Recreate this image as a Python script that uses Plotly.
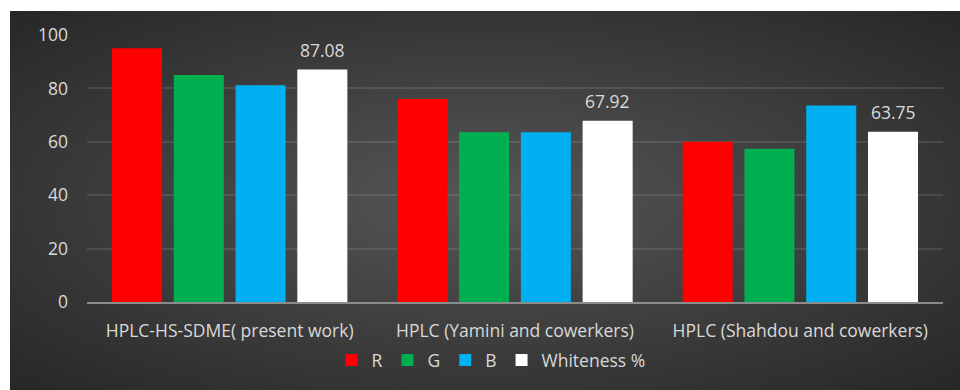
import base64
import plotly.graph_objects as go

categories = ["HPLC-HS-SDME( present work)", "HPLC (Yamini and cowerkers)", "HPLC (Shahdou and cowerkers)"]
series_names = ["R", "G", "B", "Whiteness %"]
r_vals = [95.0, 76.0, 60.0]
g_vals = [85.0, 63.6, 57.4]
b_vals = [81.2, 63.6, 73.6]
white_vals = [87.08, 67.92, 63.75]
colors = ["#FF0000", "#00B050", "#00B0F0", "#FFFFFF"]
y_ticks = [0, 20, 40, 60, 80, 100]

W, H = 960, 390
ML, MR, MT, MB = 87, 17, 35, 88
BARGAP, BARGROUPGAP = 0.134, 0.19
TXT = "#D9D9D9"
FONT = "Open Sans"
FS = 17.5

fig = go.Figure()
for name, vals, col in zip(series_names, [r_vals, g_vals, b_vals, white_vals], colors):
    fig.add_trace(go.Bar(name=name, x=categories, y=vals, marker=dict(color=col, line=dict(width=0)),
                         hoverinfo="x+y"))

# data labels for whiteness series (4th bar in each group)
n = len(series_names)
offset = (1 - BARGAP) * ((n - 0.5) / n - 0.5)
for i, v in enumerate(white_vals):
    fig.add_annotation(x=i + offset, y=v, xref="x", yref="y", text=f"{v:.2f}", showarrow=False,
                       yanchor="middle", yshift=20, font=dict(family=FONT, size=FS, color=TXT))

# gradient background (chart area starts 10px from left, 11px from top)
bw, bh = W - 10, H - 11
svg = (f'<svg xmlns="http://www.w3.org/2000/svg" width="{bw}" height="{bh}" viewBox="0 0 {bw} {bh}" '
       f'preserveAspectRatio="none"><defs><radialGradient id="g" cx="50%" cy="50%" r="72%">'
       f'<stop offset="0" stop-color="#565656"/><stop offset="1" stop-color="#262626"/></radialGradient></defs>'
       f'<rect width="{bw}" height="{bh}" fill="url(#g)"/></svg>')
src = "data:image/svg+xml;base64," + base64.b64encode(svg.encode()).decode()
pw, ph = W - ML - MR, H - MT - MB
fig.add_layout_image(source=src, xref="paper", yref="paper",
                     x=(10 - ML) / pw, y=1 + (MT - 11) / ph, sizex=bw / pw, sizey=bh / ph,
                     xanchor="left", yanchor="top", sizing="stretch", layer="below")

fig.update_layout(
    width=W, height=H,
    margin=dict(l=ML, r=MR, t=MT, b=MB, pad=0),
    paper_bgcolor="white", plot_bgcolor="rgba(0,0,0,0)",
    barmode="group", bargap=BARGAP, bargroupgap=BARGROUPGAP,
    font=dict(family=FONT, size=FS, color=TXT),
    showlegend=True,
    legend=dict(orientation="h", x=(491 - ML) / pw, xanchor="center",
                y=-(360 - (H - MB)) / ph, yanchor="middle",
                font=dict(family=FONT, size=FS, color=TXT), bgcolor="rgba(0,0,0,0)",
                itemwidth=30, tracegroupgap=0),
    xaxis=dict(type="category", showgrid=False, zeroline=False, showline=True,
               linecolor="#8C8C8C", linewidth=1.5, ticks="", ticklabelstandoff=12,
               tickfont=dict(family=FONT, size=FS, color=TXT)),
    yaxis=dict(range=[0, 100], tickvals=y_ticks, showgrid=True,
               gridcolor="rgba(255,255,255,0.10)", gridwidth=1.5, zeroline=False,
               showline=False, ticks="", ticklabelstandoff=18,
               tickfont=dict(family=FONT, size=FS, color=TXT)),
)

fig.write_html("out.html")
